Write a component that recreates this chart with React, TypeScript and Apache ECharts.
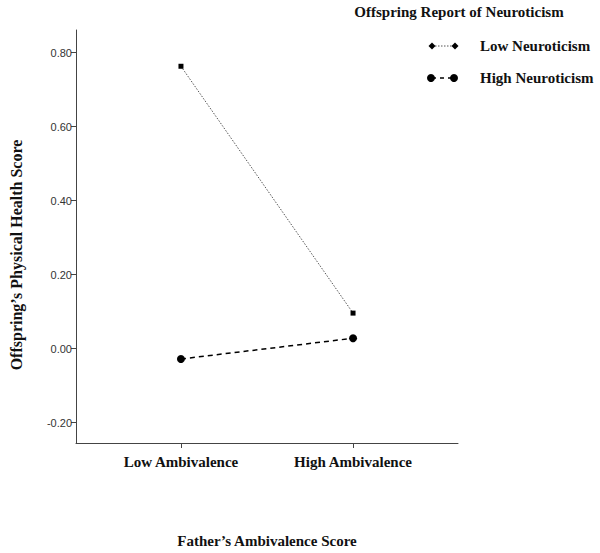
import React, { useEffect, useRef } from "react";
import * as echarts from "echarts";

const categories = ["Low Ambivalence", "High Ambivalence"];
const seriesNames = ["Low Neuroticism", "High Neuroticism"];
const lowNeuroticism = [0.763, 0.096];
const highNeuroticism = [-0.028, 0.028];
const yTicks = [-0.2, 0, 0.2, 0.4, 0.6, 0.8];
const xPositions = [0, 1];

const SERIF = "'Liberation Serif', 'Times New Roman', serif";
const SANS = "'Liberation Sans', Arial, sans-serif";

export default function App() {
  const ref = useRef<HTMLDivElement>(null);
  useEffect(() => {
    if (!ref.current) return;
    const chart = echarts.init(ref.current, null, { renderer: "svg" });
    const axisColor = "#444";
    chart.setOption({
      animation: false,
      backgroundColor: "#fff",
      grid: { left: 76, top: 30, width: 382, height: 416.7, containLabel: false },
      xAxis: {
        type: "value",
        min: -0.61,
        max: 1.61,
        splitLine: { show: false },
        axisLine: { show: true, onZero: false, lineStyle: { color: axisColor, width: 1 } },
        axisTick: { show: true, customValues: xPositions, length: 5, inside: false, lineStyle: { color: axisColor } },
        axisLabel: {
          customValues: xPositions,
          formatter: (v: number) => categories[Math.round(v)] ?? "",
          fontFamily: SERIF,
          fontWeight: "bold",
          fontSize: 15,
          color: "#111",
          margin: 11,
        },
        name: "Father\u2019s Ambivalence Score",
        nameLocation: "middle",
        nameGap: 90,
        nameTextStyle: { fontFamily: SERIF, fontWeight: "bold", fontSize: 15, color: "#111" },
      },
      yAxis: {
        type: "value",
        min: -0.255,
        max: 0.861,
        splitLine: { show: false },
        axisLine: { show: true, onZero: false, lineStyle: { color: axisColor, width: 1 } },
        axisTick: { show: true, customValues: yTicks, length: 5, lineStyle: { color: axisColor } },
        axisLabel: {
          customValues: yTicks,
          formatter: (v: number) => v.toFixed(2),
          fontFamily: SANS,
          fontSize: 11,
          color: "#333",
          margin: 4,
        },
      },
      series: [
        {
          name: seriesNames[0],
          type: "line",
          data: xPositions.map((x, i) => [x, lowNeuroticism[i]]),
          symbol: "rect",
          symbolSize: 5,
          itemStyle: { color: "#000" },
          lineStyle: { color: "#555", width: 1, type: [1.5, 1.5] },
        },
        {
          name: seriesNames[1],
          type: "line",
          data: xPositions.map((x, i) => [x, highNeuroticism[i]]),
          symbol: "circle",
          symbolSize: 8,
          itemStyle: { color: "#000" },
          lineStyle: { color: "#000", width: 1.5, type: [5, 4] },
        },
      ],
      graphic: [
        {
          type: "text",
          x: 16,
          y: 255,
          rotation: Math.PI / 2,
          style: {
            text: "Offspring\u2019s Physical Health Score",
            font: `bold 16px ${SERIF}`,
            fill: "#111",
            align: "center",
            verticalAlign: "middle",
          },
        },
        {
          type: "text",
          x: 459,
          y: 12,
          style: {
            text: "Offspring Report of Neuroticism",
            font: `bold 15px ${SERIF}`,
            fill: "#111",
            align: "center",
            verticalAlign: "middle",
          },
        },
        { type: "line", shape: { x1: 432, y1: 46, x2: 455, y2: 46 }, style: { stroke: "#555", lineWidth: 1, lineDash: [1.5, 1.5] } },
        { type: "polygon", shape: { points: [[432, 42.5], [435.5, 46], [432, 49.5], [428.5, 46]] }, style: { fill: "#000" } },
        { type: "polygon", shape: { points: [[455, 42.5], [458.5, 46], [455, 49.5], [451.5, 46]] }, style: { fill: "#000" } },
        { type: "line", shape: { x1: 432, y1: 78, x2: 454, y2: 78 }, style: { stroke: "#000", lineWidth: 1.5, lineDash: [4, 4] } },
        { type: "circle", shape: { cx: 431, cy: 78, r: 4 }, style: { fill: "#000" } },
        { type: "circle", shape: { cx: 454, cy: 78, r: 4 }, style: { fill: "#000" } },
        {
          type: "text",
          x: 480,
          y: 46,
          style: { text: seriesNames[0], font: `bold 15px ${SERIF}`, fill: "#111", verticalAlign: "middle" },
        },
        {
          type: "text",
          x: 480,
          y: 78,
          style: { text: seriesNames[1], font: `bold 15px ${SERIF}`, fill: "#111", verticalAlign: "middle" },
        },
      ],
    });
    return () => chart.dispose();
  }, []);
  return <div ref={ref} style={{ width: 600, height: 553, position: "absolute", left: 0, top: 0 }} />;
}
